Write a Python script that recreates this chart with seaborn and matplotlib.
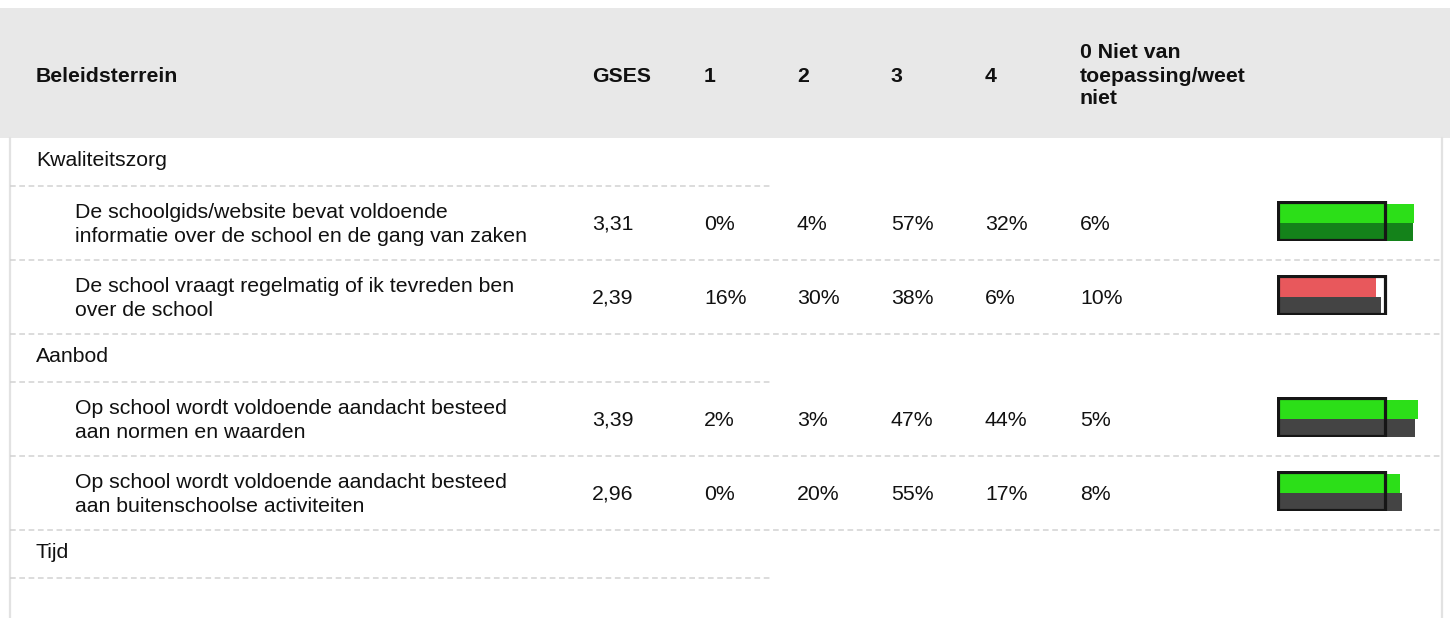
import matplotlib
matplotlib.use("Agg")
import matplotlib.pyplot as plt
import seaborn as sns
import pandas as pd


#######################  DATA  #######################

kolommen = ["GSES", "1", "2", "3", "4", "0 Niet van\ntoepassing/weet\nniet"]
categorieen = ["Kwaliteitszorg", "Aanbod", "Tijd"]
vragen = [
    ["De schoolgids/website bevat voldoende", "informatie over de school en de gang van zaken"],
    ["De school vraagt regelmatig of ik tevreden ben", "over de school"],
    ["Op school wordt voldoende aandacht besteed", "aan normen en waarden"],
    ["Op school wordt voldoende aandacht besteed", "aan buitenschoolse activiteiten"],
]
vraag_categorie = [0, 0, 1, 1]
gses = [3.31, 2.39, 3.39, 2.96]
pct_1 = [0, 16, 2, 0]
pct_2 = [4, 30, 3, 20]
pct_3 = [57, 38, 47, 55]
pct_4 = [32, 6, 44, 17]
pct_0 = [6, 10, 5, 8]
benchmark = [3.28, 2.50, 3.33, 3.01]

# bar colours per row: (school score, benchmark)
kleur_score = ["#2cdf18", "#e8585c", "#2cdf18", "#2cdf18"]
kleur_bench = ["#14821a", "#444444", "#444444", "#444444"]


#######################  LAYOUT  #######################

W, H = 1450, 618
HEADER_TOP, HEADER_BOTTOM = 8, 137.5
CAT_H, ROW_H = 48, 74
LEFT, RIGHT = 10, 1442
COL_X = [592, 704, 797, 891, 985, 1080]
BAR_X0, BAR_W, BAR_MAX = 1277, 166, 4.0
FRAME_W = 109
GRID = "#d2d2d2"
TXT = "#111111"
FS = 15.3

sns.set_style("white")
plt.rcParams["font.family"] = ["Liberation Sans", "DejaVu Sans"]
plt.rcParams["lines.scale_dashes"] = False

fig = plt.figure(figsize=(W / 100, H / 100), dpi=100)
bg = fig.add_axes([0, 0, 1, 1])
bg.set_xlim(0, W)
bg.set_ylim(H, 0)
bg.axis("off")

# header band
bg.add_patch(plt.Rectangle((0, HEADER_TOP), W, HEADER_BOTTOM - HEADER_TOP,
                           facecolor="#e8e8e8", edgecolor="none"))
bg.text(36, 82, "Beleidsterrein", fontsize=FS, fontweight="bold", color=TXT, va="baseline")
for x, lab in zip(COL_X, kolommen):
    lines = lab.split("\n")
    if len(lines) == 1:
        bg.text(x, 82, lab, fontsize=FS, fontweight="bold", color=TXT, va="baseline")
    else:
        for i, ln in enumerate(lines):
            bg.text(x, 58.5 + 23 * i, ln, fontsize=FS, fontweight="bold", color=TXT, va="baseline")

# side borders
bg.plot([LEFT, LEFT], [HEADER_BOTTOM, H], color="#e2e2e2", lw=1.6)
bg.plot([RIGHT, RIGHT], [HEADER_BOTTOM, H], color="#e2e2e2", lw=1.6)

dash = (0, (4.1, 2.6))


def dashed(y, x1):
    bg.plot([LEFT, x1], [y, y], color=GRID, lw=1.1, linestyle=dash)


def bar_cell(i, top):
    ax = fig.add_axes([BAR_X0 / W, 1 - (top + 40) / H, BAR_W / W, 40 / H])
    df = pd.DataFrame({"wie": ["school", "benchmark"],
                       "score": [gses[i], benchmark[i]]})
    sns.barplot(data=df, x="score", y="wie", hue="wie", order=["school", "benchmark"],
                palette=[kleur_score[i], kleur_bench[i]], saturation=1, width=1,
                orient="h", legend=False, linewidth=0, ax=ax)
    ax.set_xlim(0, BAR_MAX)
    ax.set_ylim(1.5, -0.69)
    ax.axis("off")
    ax.add_patch(plt.Rectangle((0.008, 0.03), FRAME_W / BAR_W - 0.016, 0.94,
                               transform=ax.transAxes, fill=False,
                               edgecolor="#161616", lw=2.3, zorder=5))


y = HEADER_BOTTOM
for c, cat in enumerate(categorieen):
    bg.text(36, y + 28, cat, fontsize=FS, color=TXT, va="baseline")
    y += CAT_H
    dashed(y, 771)
    for i in [k for k, vc in enumerate(vraag_categorie) if vc == c]:
        bg.text(75, y + 33, vragen[i][0], fontsize=FS, color=TXT, va="baseline")
        bg.text(75, y + 56, vragen[i][1], fontsize=FS, color=TXT, va="baseline")
        waarden = [f"{gses[i]:.2f}".replace(".", ","),
                   f"{pct_1[i]}%", f"{pct_2[i]}%", f"{pct_3[i]}%", f"{pct_4[i]}%", f"{pct_0[i]}%"]
        for x, s in zip(COL_X, waarden):
            bg.text(x, y + 44.5, s, fontsize=FS, color=TXT, va="baseline")
        bar_cell(i, y + 15.5)
        y += ROW_H
        dashed(y, RIGHT)

fig.savefig("out.png", dpi=100)
